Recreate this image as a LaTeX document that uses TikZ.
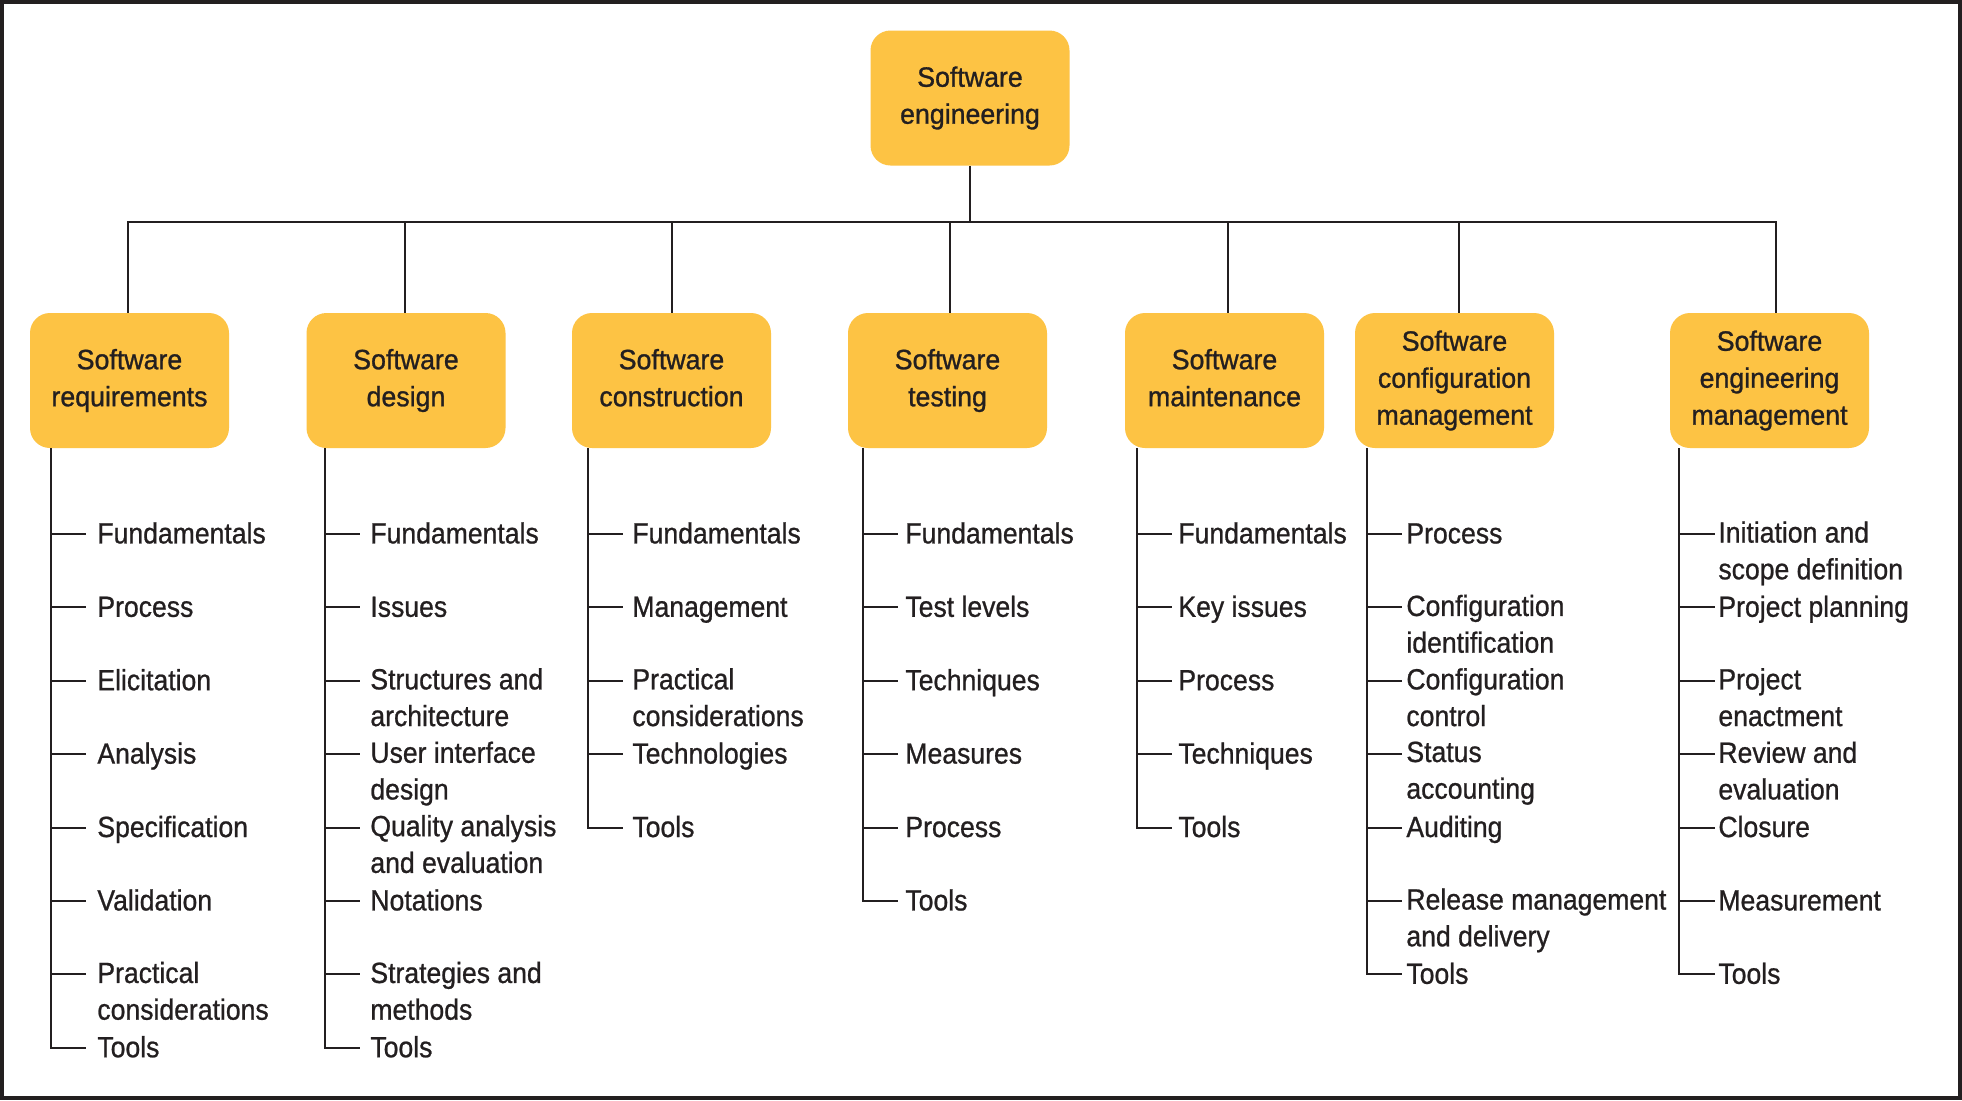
\documentclass[tikz,border=0pt]{standalone}
\usepackage{fontspec}
\setmainfont{Liberation Sans}
\newfontfamily\itemfam{Liberation Sans}[FakeStretch=0.91,FakeBold=0.8]
\newfontfamily\boxfam{Liberation Sans}[FakeStretch=0.955,FakeBold=1.0]
\definecolor{ink}{HTML}{231F20}
\definecolor{boxyellow}{HTML}{FDC344}
\tikzset{
  topic/.style={fill=boxyellow, rounded corners=10pt, minimum width=99.5pt,
    minimum height=67.5pt, inner sep=0pt, align=center, text=ink,
    font=\boxfam\fontsize{14}{18.5}\selectfont,
    execute at end node={\vphantom{g}}},
  item/.style={anchor=north west, inner sep=0pt, align=left, text=ink,
    font=\itemfam\fontsize{14.6}{18.35}\selectfont,
    execute at begin node={\rule{0pt}{11pt}}},
  conn/.style={draw=ink, line width=1pt},
}
\newcommand\mycol[5]{%
  \coordinate (s#1) at (#2,0);
  \foreach \t [count=\i] in {#5} {
    \pgfmathsetmacro\yy{534+73.4*(\i-1)}
    \node[item] (c#1-\i) at (#4,\yy-13) {\t};
    \draw[conn] (#2,\yy) -- (#3,\yy);
    \xdef\lasty{\yy}
  }
  \draw[conn] (b#1.south -| s#1) |- (#3,\lasty);
}
\begin{document}
\begin{tikzpicture}[x=0.5pt,y=-0.5pt]
\useasboundingbox (0,0) rectangle (1962,1100);
\fill[white] (0,0) rectangle (1962,1100);
\draw[draw=ink, line width=2pt] (2,2) rectangle (1960,1098);

\node[topic] (top) at (970,98) {Software\\engineering};
\node[topic] (b1) at (129.5,380.5) {Software\\requirements};
\node[topic] (b2) at (406,380.5) {Software\\design};
\node[topic] (b3) at (671.5,380.5) {Software\\construction};
\node[topic] (b4) at (947.5,380.5) {Software\\testing};
\node[topic] (b5) at (1224.5,380.5) {Software\\maintenance};
\node[topic] (b6) at (1454.5,380.5) {Software\\configuration\\management};
\node[topic] (b7) at (1769.5,380.5) {Software\\engineering\\management};

\coordinate (bus) at (970,221.5);
\draw[conn] (top.south) -- (bus);
\draw[conn] (bus) -| ([xshift=-0.75pt]b1.north);
\draw[conn] (bus) -| ([xshift=-0.5pt]b2.north);
\draw[conn] (bus) -| ([xshift=0.25pt]b3.north);
\draw[conn] (bus) -| ([xshift=1.25pt]b4.north);
\draw[conn] (bus) -| ([xshift=1.75pt]b5.north);
\draw[conn] (bus) -| ([xshift=2.25pt]b6.north);
\draw[conn] (bus) -| ([xshift=3.25pt]b7.north);

\mycol{1}{51}{86}{97}{Fundamentals,Process,Elicitation,Analysis,Specification,Validation,{Practical\\considerations},Tools}
\mycol{2}{325}{360}{370}{Fundamentals,Issues,{Structures and\\architecture},{User interface\\design},{Quality analysis\\and evaluation},Notations,{Strategies and\\methods},Tools}
\mycol{3}{588}{623}{632}{Fundamentals,Management,{Practical\\considerations},Technologies,Tools}
\mycol{4}{863}{898}{905}{Fundamentals,Test levels,Techniques,Measures,Process,Tools}
\mycol{5}{1137}{1172}{1178}{Fundamentals,Key issues,Process,Techniques,Tools}
\mycol{6}{1367}{1402}{1406}{Process,{Configuration\\identification},{Configuration\\control},{Status\\accounting},Auditing,{Release management\\and delivery},Tools}
\mycol{7}{1679}{1715}{1718}{{Initiation and\\scope definition},Project planning,{Project\\enactment},{Review and\\evaluation},Closure,Measurement,Tools}
\end{tikzpicture}
\end{document}
